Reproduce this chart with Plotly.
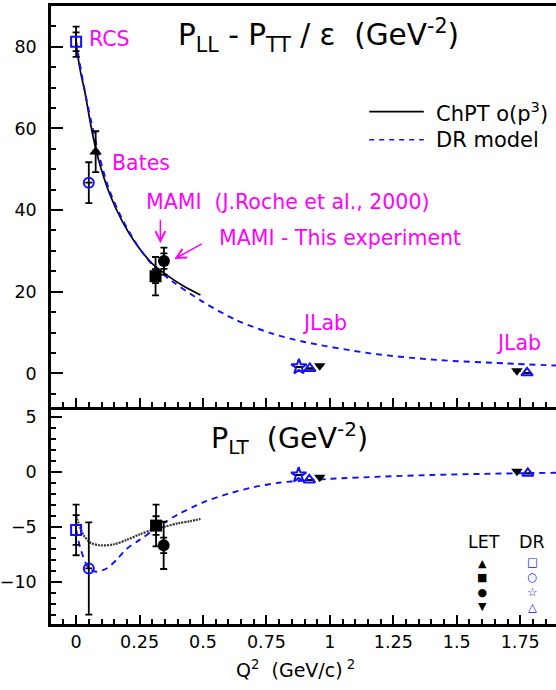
import plotly.graph_objects as go

# ---------------- data ----------------
# P_LL - P_TT/eps  (top panel)
q_chpt_ll = [0.0, 0.007, 0.02, 0.033, 0.059, 0.085, 0.131, 0.183, 0.235, 0.30, 0.366, 0.431, 0.49]
chpt_ll = [81.2, 77.6, 73.0, 69.4, 60.4, 53.1, 44.1, 37.1, 31.8, 26.9, 23.7, 21.1, 19.2]
q_dr_ll = [0.0, 0.01, 0.03, 0.06, 0.09, 0.13, 0.18, 0.235, 0.30, 0.38, 0.50, 0.63, 0.77, 0.90, 1.16, 1.42, 1.69, 1.90]
dr_ll = [81.2, 77.5, 70.5, 61.5, 53.5, 45.0, 38.0, 32.0, 26.6, 22.5, 17.5, 13.1, 9.8, 7.7, 4.9, 3.3, 2.45, 1.9]

# P_LT  (bottom panel)
q_chpt_lt = [0.0, 0.01, 0.03, 0.06, 0.10, 0.15, 0.20, 0.25, 0.30, 0.35, 0.40, 0.45, 0.49]
chpt_lt = [-4.0, -4.7, -5.8, -6.5, -6.7, -6.6, -6.2, -5.7, -5.3, -5.0, -4.7, -4.5, -4.3]
q_dr_lt = [0.0, 0.02, 0.05, 0.08, 0.12, 0.16, 0.20, 0.25, 0.30, 0.35, 0.40, 0.50, 0.60, 0.70, 0.80, 0.90, 1.00, 1.20, 1.40, 1.60, 1.80, 1.90]
dr_lt = [-5.3, -7.2, -8.8, -9.1, -8.8, -8.0, -7.0, -6.2, -5.4, -4.6, -3.9, -2.8, -2.0, -1.4, -1.0, -0.8, -0.65, -0.45, -0.3, -0.2, -0.12, -0.1]

# LET values (black filled symbols): Bates, MAMI 2000, MAMI this exp., JLab, JLab
let_ll_q = [0.077, 0.313, 0.346, 0.960, 1.737]
let_ll = [54.3, 23.8, 27.5, 1.9, 0.65]
let_ll_tot = [5.0, 4.7, 3.3, None, None]
let_ll_stat = [None, 1.7, 1.9, None, None]
let_ll_sym = ["triangle-up", "square", "circle", "triangle-down", "triangle-down"]

let_lt_q = [0.315, 0.345, 0.960, 1.737]
let_lt = [-4.9, -6.7, -0.5, 0.05]
let_lt_tot = [1.9, 2.15, None, None]
let_lt_stat = [0.85, 0.7, None, None]
let_lt_sym = ["square", "circle", "triangle-down", "triangle-down"]

# DR values (blue open symbols): RCS, Bates, JLab, JLab, JLab
dr_ll_q = [0.0, 0.050, 0.878, 0.921, 1.777]
dr_pts_ll = [81.2, 46.7, 1.6, 1.2, 0.15]
dr_ll_tot = [3.7, 5.0, None, None, None]
dr_ll_stat = [2.3, None, None, None, None]
dr_sym = ["square-open", "circle-open", "star-open", "triangle-up-open", "triangle-up-open"]

dr_lt_q = [0.0, 0.050, 0.877, 0.919, 1.780]
dr_pts_lt = [-5.3, -8.8, -0.3, -0.75, -0.15]
dr_lt_tot = [2.3, 4.2, None, None, None]
dr_lt_stat = [1.35, None, None, None, None]

# symbol key (bottom-right corner)
key_let = ["▲", "■", "●", "▼"]
key_dr = ["□", "○", "☆", "△"]

# ---------------- style ----------------
BLUE = "#1010ff"
MAG = "#ff00ff"
FONT = "DejaVu Sans, Liberation Sans, Arial, sans-serif"
sym_size = {"triangle-up": 11, "square": 12, "circle": 12, "triangle-down": 10,
            "square-open": 10, "circle-open": 10, "star-open": 11.5, "triangle-up-open": 10}

fig = go.Figure()


def add_points(q, v, tot, stat, syms, color, xa, ya, opened):
    fig.add_trace(go.Scatter(
        x=q, y=v, mode="markers", xaxis=xa, yaxis=ya, showlegend=False,
        error_y=dict(type="data", array=stat, visible=True, color="black", thickness=1.8, width=3.5),
        marker=dict(size=0.1, opacity=0), hoverinfo="skip"))
    fig.add_trace(go.Scatter(
        x=q, y=v, mode="markers", xaxis=xa, yaxis=ya, showlegend=False,
        error_y=dict(type="data", array=tot, visible=True, color="black", thickness=1.8, width=3.5),
        marker=dict(symbol=syms, size=[sym_size[s] for s in syms], color=color, opacity=1,
                    line=dict(color=color, width=2 if opened else 0))))


# curves
fig.add_trace(go.Scatter(x=q_chpt_ll, y=chpt_ll, mode="lines", xaxis="x", yaxis="y", showlegend=False,
                         line=dict(color="black", width=1.7, shape="spline", smoothing=0.8)))
fig.add_trace(go.Scatter(x=q_dr_ll, y=dr_ll, mode="lines", xaxis="x", yaxis="y", showlegend=False,
                         line=dict(color=BLUE, width=1.9, dash="6px,5px", shape="spline", smoothing=0.8)))
fig.add_trace(go.Scatter(x=q_chpt_lt, y=chpt_lt, mode="lines", xaxis="x2", yaxis="y2", showlegend=False,
                         line=dict(color="#333333", width=2.2, dash="2px,1px", shape="spline", smoothing=0.8)))
fig.add_trace(go.Scatter(x=q_dr_lt, y=dr_lt, mode="lines", xaxis="x2", yaxis="y2", showlegend=False,
                         line=dict(color=BLUE, width=1.9, dash="6px,5px", shape="spline", smoothing=0.8)))

add_points(let_ll_q, let_ll, let_ll_tot, let_ll_stat, let_ll_sym, "black", "x", "y", False)
add_points(dr_ll_q, dr_pts_ll, dr_ll_tot, dr_ll_stat, dr_sym, BLUE, "x", "y", True)
add_points(let_lt_q, let_lt, let_lt_tot, let_lt_stat, let_lt_sym, "black", "x2", "y2", False)
add_points(dr_lt_q, dr_pts_lt, dr_lt_tot, dr_lt_stat, dr_sym, BLUE, "x2", "y2", True)

XR = [-0.099, 1.891]
axis_common = dict(showline=True, linecolor="black", linewidth=2.5, ticks="inside", tickcolor="black",
                   tickwidth=1.5, showgrid=False, zeroline=False,
                   tickfont=dict(family=FONT, size=17.5, color="black"))

fig.update_layout(
    width=556, height=690, margin=dict(l=48, r=0, t=6, b=66),
    paper_bgcolor="white", plot_bgcolor="white", showlegend=False,
    xaxis=dict(axis_common, range=XR, anchor="y", dtick=0.25, tick0=0, ticklen=9, showticklabels=False,
               mirror=True, minor=dict(dtick=0.05, ticklen=5, ticks="inside", tickcolor="black", tickwidth=1.5)),
    xaxis2=dict(axis_common, range=XR, anchor="y2", matches="x", dtick=0.25, tick0=0, ticklen=9,
                tickvals=[0, 0.25, 0.5, 0.75, 1, 1.25, 1.5, 1.75],
                ticktext=["0", "0.25", "0.5", "0.75", "1", "1.25", "1.5", "1.75"],
                ticklabelstandoff=0,
                minor=dict(dtick=0.05, ticklen=5, ticks="inside", tickcolor="black", tickwidth=1.5)),
    yaxis=dict(axis_common, domain=[0.3516, 1], range=[-8.16, 89.97], anchor="x", dtick=20, tick0=0,
               ticklen=12, ticklabelstandoff=8,
               minor=dict(dtick=5, ticklen=5, ticks="inside", tickcolor="black", tickwidth=1.5)),
    yaxis2=dict(axis_common, domain=[0, 0.3516], range=[-13.85, 5.91], anchor="x2", dtick=5, tick0=0,
                ticklen=11, ticklabelstandoff=8,
                minor=dict(dtick=1, ticklen=5, ticks="inside", tickcolor="black", tickwidth=1.5)),
)

ann = []
NB = "\u00a0"
# panel titles
ann.append(dict(x=0.392, y=82.8, xref="x", yref="y", xanchor="left", yanchor="middle", showarrow=False,
                text="P<sub>LL</sub> - P<sub>TT</sub> / ε" + NB + NB + "(GeV<sup>-2</sup>)",
                font=dict(family=FONT, size=29.5, color="black")))
ann.append(dict(x=0.525, y=3.1, xref="x2", yref="y2", xanchor="left", yanchor="middle", showarrow=False,
                text="P<sub>LT</sub>" + NB + NB + "(GeV<sup>-2</sup>)",
                font=dict(family=FONT, size=28.5, color="black")))
# x-axis title
ann.append(dict(x=0.484, y=-0.073, xref="paper", yref="paper", xanchor="center", yanchor="middle",
                showarrow=False, text="Q<sup>2</sup>" + NB + NB + "(GeV/c)<sup>" + NB + "2</sup>",
                font=dict(family=FONT, size=19, color="black")))
# experiment labels
for txt, xx, yy in [("RCS", 0.042, 81.9), ("Bates", 0.132, 51.6),
                    ("MAMI" + NB + NB + "(J.Roche et al., 2000)", 0.268, 42.0),
                    ("MAMI - This experiment", 0.555, 33.1),
                    ("JLab", 0.882, 12.45), ("JLab", 1.646, 7.4)]:
    ann.append(dict(x=xx, y=yy, xref="x", yref="y", xanchor="left", yanchor="middle", showarrow=False,
                    text=txt, font=dict(family=FONT, size=20.5, color=MAG)))
# arrows
ann.append(dict(x=0.332, y=31.9, xref="x", yref="y", ax=0, ay=-25, text="", showarrow=True,
                arrowhead=5, arrowsize=1.3, arrowwidth=1.5, arrowcolor=MAG))
ann.append(dict(x=0.387, y=28.0, xref="x", yref="y", ax=29, ay=-16, text="", showarrow=True,
                arrowhead=5, arrowsize=1.3, arrowwidth=1.5, arrowcolor=MAG))
# legend texts
ann.append(dict(x=1.409, y=64.1, xref="x", yref="y", xanchor="left", yanchor="middle", showarrow=False,
                text="ChPT o(p<sup>3</sup>)", font=dict(family=FONT, size=21, color="black")))
ann.append(dict(x=1.409, y=57.2, xref="x", yref="y", xanchor="left", yanchor="middle", showarrow=False,
                text="DR model", font=dict(family=FONT, size=21, color="black")))
# LET / DR symbol key
ann.append(dict(x=1.609, y=-6.36, xref="x2", yref="y2", showarrow=False, text="LET",
                font=dict(family=FONT, size=17.5, color="black")))
ann.append(dict(x=1.797, y=-6.36, xref="x2", yref="y2", showarrow=False, text="DR",
                font=dict(family=FONT, size=17.5, color="black")))
ann.append(dict(x=1.598, y=-10.27, xref="x2", yref="y2", showarrow=False, text="<br>".join(key_let),
                font=dict(family="DejaVu Sans", size=11, color="black")))
ann.append(dict(x=1.797, y=-10.27, xref="x2", yref="y2", showarrow=False, text="<br>".join(key_dr),
                font=dict(family="DejaVu Sans", size=11.5, color=BLUE)))
fig.update_layout(annotations=ann)

# legend samples
fig.add_shape(type="line", xref="x", yref="y", x0=1.155, x1=1.370, y0=64.1, y1=64.1,
              line=dict(color="black", width=1.6))
fig.add_shape(type="line", xref="x", yref="y", x0=1.155, x1=1.370, y0=57.2, y1=57.2,
              line=dict(color=BLUE, width=1.6, dash="5px,5px"))

fig.write_html("out.html")
